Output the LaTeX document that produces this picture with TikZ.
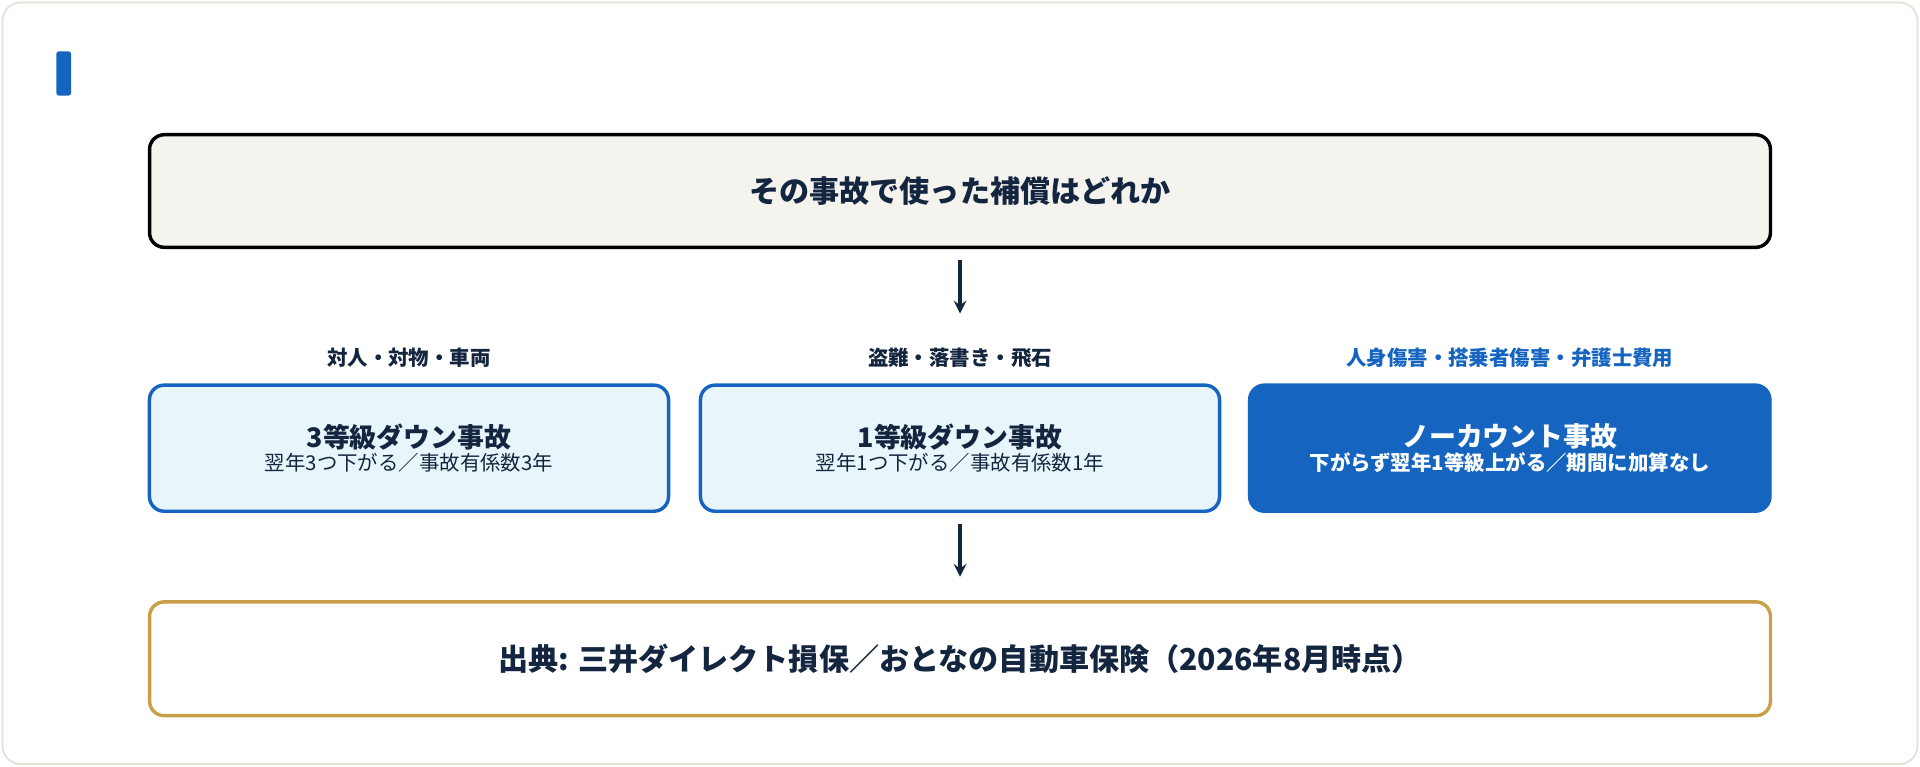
\documentclass[tikz,border=0pt]{standalone}
\usepackage{fontspec}
\setmainfont{Noto Sans CJK JP}
\usetikzlibrary{positioning}
\definecolor{navy}{RGB}{20,38,63}
\definecolor{mainblue}{RGB}{21,101,192}
\definecolor{paleblue}{RGB}{232,246,252}
\definecolor{cream}{RGB}{244,243,238}
\definecolor{gold}{RGB}{201,160,72}
\definecolor{frame}{RGB}{226,224,212}
\tikzset{
  box/.style={draw,rounded corners=0.24cm,line width=1.6pt,align=center,text=navy},
  tag/.style={font=\bfseries\fontsize{9.5}{11}\selectfont,text=navy},
  flow/.style={->,>=stealth,line width=1.6pt,draw=navy}
}
\begin{document}
\begin{tikzpicture}[x=0.02cm,y=-0.02cm]
% Frame
\draw[frame,fill=white,rounded corners=0.3cm,line width=0.8pt] (2,2) rectangle (1566,624);
\useasboundingbox (0,0) rectangle (1568,626);
\fill[mainblue,rounded corners=0.04cm] (46,42) rectangle (58,78);

% Question
\node[box,fill=cream,minimum width=26.48cm,minimum height=1.84cm,font=\bfseries\fontsize{14}{16}\selectfont] (q) at (784,156) {その事故で使った補償はどれか};

% Three cases
\node[box,draw=mainblue,fill=paleblue,minimum width=8.48cm,minimum height=2.06cm] (three) at (334,366)
  {{\bfseries\fontsize{12.5}{15}\selectfont 3等級ダウン事故}\\[-1pt]{\fontsize{9.5}{12}\selectfont 翌年3つ下がる／事故有係数3年}};
\node[box,draw=mainblue,fill=paleblue,minimum width=8.48cm,minimum height=2.06cm] (one) at (784,366)
  {{\bfseries\fontsize{12.5}{15}\selectfont 1等級ダウン事故}\\[-1pt]{\fontsize{9.5}{12}\selectfont 翌年1つ下がる／事故有係数1年}};
\node[box,draw=mainblue,fill=mainblue,text=white,minimum width=8.5cm,minimum height=2.06cm] (none) at (1233,366)
  {{\bfseries\fontsize{12.5}{15}\selectfont ノーカウント事故}\\[-1pt]{\bfseries\fontsize{9.5}{12}\selectfont 下がらず翌年1等級上がる／期間に加算なし}};

\node[tag] (t1) at (334,292) {対人・対物・車両};
\node[tag] (t2) at (784,292) {盗難・落書き・飛石};
\node[tag,text=mainblue] (t3) at (1233,292) {人身傷害・搭乗者傷害・弁護士費用};

% Source
\node[box,draw=gold,fill=white,minimum width=26.48cm,minimum height=1.86cm,font=\bfseries\fontsize{14}{16}\selectfont] (src) at (784,538) {出典: 三井ダイレクト損保／おとなの自動車保険（2026年8月時点）};

\coordinate (a1) at (784,212);
\coordinate (a2) at (784,256);
\coordinate (b1) at (784,428);
\coordinate (b2) at (784,471);
\draw[flow] (a1) -- (a2);
\draw[flow] (b1) -- (b2);
\end{tikzpicture}
\end{document}
